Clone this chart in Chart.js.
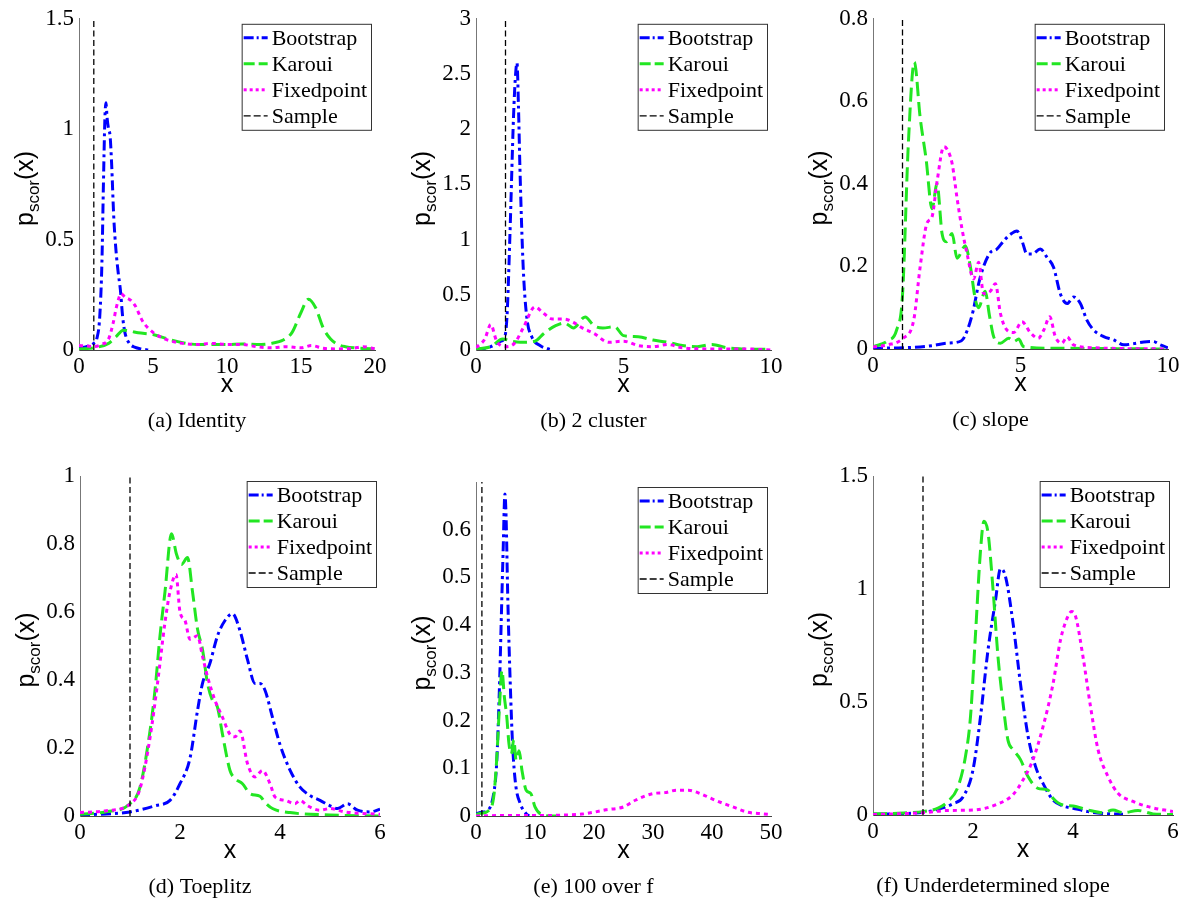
<!DOCTYPE html>
<html lang="en">
<head>
<meta charset="UTF-8">
<title>p_scor(x) densities</title>
<style>
    body { margin: 0; background: #fff; }
    #fig { position: relative; width: 1200px; height: 900px; }
    #fig canvas { position: absolute; }
</style>
</head>
<body>
<div id="fig"></div>
<script src="https://cdn.jsdelivr.net/npm/chart.js"></script>
<script>
// Series names, in legend order
const seriesNames = ['Bootstrap', 'Karoui', 'Fixedpoint', 'Sample'];
const sampleX = 1;

// (a) Identity
const identityXTicks = [0, 5, 10, 15, 20];
const identityYTicks = [0, 0.5, 1, 1.5];
const identityBootstrap = [[0,0.01],[0.5,0.015],[1,0.03],[1.2,0.05],[1.4,0.15],[1.55,0.4],[1.65,0.75],[1.75,1.05],[1.82,1.12],[1.9,1.05],[2.0,1.0],[2.1,0.97],[2.2,0.85],[2.35,0.6],[2.5,0.45],[2.65,0.35],[2.8,0.27],[2.95,0.15],[3.1,0.08],[3.4,0.03],[3.8,0.012],[4.2,0.005],[4.7,0]];
const identityKaroui = [[0,0.005],[1,0.01],[2,0.03],[2.5,0.06],[3,0.09],[3.5,0.085],[4,0.078],[5,0.07],[6,0.05],[7,0.033],[8,0.025],[9,0.025],[10,0.025],[11,0.027],[12,0.025],[13,0.03],[13.8,0.045],[14.4,0.08],[15,0.17],[15.5,0.23],[16,0.19],[16.5,0.1],[17,0.05],[17.5,0.025],[18,0.015],[19,0.008],[20,0.005]];
const identityFixedpoint = [[0,0.02],[0.5,0.018],[1,0.015],[1.5,0.025],[2,0.05],[2.3,0.12],[2.55,0.2],[2.85,0.255],[3.1,0.24],[3.5,0.225],[3.8,0.2],[4.3,0.13],[5,0.08],[6,0.045],[7,0.03],[8,0.025],[9,0.03],[10,0.025],[11,0.025],[12,0.015],[13,0.01],[14,0.015],[15,0.01],[15.7,0.02],[16.5,0.008],[17.5,0.005],[18.5,0.008],[19.2,0.015],[20,0.005]];

// (b) 2 cluster
const twoClusterXTicks = [0, 5, 10];
const twoClusterYTicks = [0, 0.5, 1, 1.5, 2, 2.5, 3];
const twoClusterBootstrap = [[0,0],[0.5,0.03],[0.85,0.08],[0.95,0.1],[1.05,0.3],[1.15,1.04],[1.27,2.1],[1.33,2.45],[1.39,2.6],[1.44,2.2],[1.49,1.64],[1.6,0.75],[1.72,0.3],[1.89,0.12],[2.17,0.04],[2.56,0]];
const twoClusterKaroui = [[0,0.01],[0.5,0.03],[0.9,0.1],[1.2,0.08],[1.5,0.07],[2,0.08],[2.3,0.15],[2.7,0.22],[3,0.245],[3.3,0.2],[3.7,0.3],[4,0.22],[4.3,0.2],[4.7,0.21],[5,0.13],[5.5,0.12],[6,0.09],[6.5,0.07],[7,0.04],[7.5,0.03],[8,0.05],[8.5,0.02],[9,0.01],[10,0.005]];
const twoClusterFixedpoint = [[0,0.02],[0.3,0.1],[0.5,0.23],[0.7,0.08],[1,0.03],[1.3,0.06],[1.6,0.2],[2,0.39],[2.3,0.33],[2.6,0.28],[3,0.28],[3.3,0.25],[3.6,0.2],[4,0.15],[4.5,0.07],[5,0.08],[5.5,0.04],[6,0.03],[6.5,0.05],[7,0.02],[8,0.01],[9,0.01],[10,0]];

// (c) slope
const slopeXTicks = [0, 5, 10];
const slopeYTicks = [0, 0.2, 0.4, 0.6, 0.8];
const slopeBootstrap = [[0,0.002],[1,0.003],[2,0.008],[2.5,0.014],[3,0.02],[3.2,0.046],[3.4,0.094],[3.58,0.158],[3.75,0.2],[3.98,0.234],[4.2,0.242],[4.43,0.262],[4.66,0.278],[4.88,0.286],[5.05,0.262],[5.22,0.23],[5.39,0.23],[5.67,0.242],[5.9,0.222],[6.12,0.198],[6.35,0.134],[6.58,0.11],[6.8,0.126],[7.03,0.11],[7.25,0.07],[7.48,0.046],[7.82,0.03],[8.16,0.022],[8.5,0.01],[8.84,0.013],[9.18,0.017],[9.5,0.018],[9.74,0.01],[10,0.003]];
const slopeKaroui = [[0,0.005],[0.5,0.02],[0.8,0.046],[1,0.13],[1.2,0.5],[1.4,0.695],[1.6,0.56],[1.8,0.46],[2,0.34],[2.17,0.4],[2.34,0.28],[2.49,0.26],[2.68,0.28],[2.85,0.22],[3.13,0.25],[3.3,0.2],[3.47,0.12],[3.58,0.1],[3.8,0.14],[3.95,0.08],[4.09,0.03],[4.32,0.014],[4.6,0.026],[4.77,0.018],[4.94,0.024],[5.1,0.006],[6,0.002],[10,0]];
const slopeFixedpoint = [[0,0.005],[0.5,0.01],[1,0.025],[1.38,0.07],[1.6,0.2],[1.83,0.305],[2,0.32],[2.17,0.405],[2.4,0.49],[2.5,0.485],[2.68,0.45],[2.85,0.365],[3.02,0.29],[3.19,0.23],[3.41,0.17],[3.58,0.21],[3.75,0.134],[3.98,0.14],[4.15,0.158],[4.32,0.086],[4.54,0.046],[4.77,0.04],[5.05,0.066],[5.33,0.04],[5.6,0.026],[5.79,0.046],[5.99,0.078],[6.18,0.03],[6.4,0.014],[6.58,0.029],[6.8,0.01],[7.5,0.003],[10,0]];

// (d) Toeplitz
const toeplitzXTicks = [0, 2, 4, 6];
const toeplitzYTicks = [0, 0.2, 0.4, 0.6, 0.8, 1];
const toeplitzBootstrap = [[0,0.003],[1,0.012],[1.5,0.03],[1.8,0.046],[2,0.095],[2.2,0.17],[2.35,0.31],[2.45,0.39],[2.6,0.45],[2.75,0.53],[2.9,0.575],[3.05,0.595],[3.2,0.545],[3.35,0.46],[3.5,0.39],[3.6,0.39],[3.7,0.37],[3.85,0.29],[4,0.21],[4.2,0.135],[4.4,0.085],[4.6,0.06],[4.8,0.046],[5,0.03],[5.15,0.022],[5.35,0.036],[5.55,0.017],[5.8,0.012],[6,0.02]];
const toeplitzKaroui = [[0,0.005],[0.5,0.012],[1,0.036],[1.2,0.085],[1.4,0.25],[1.5,0.37],[1.6,0.53],[1.7,0.66],[1.83,0.83],[1.93,0.77],[2.03,0.74],[2.15,0.76],[2.25,0.66],[2.35,0.55],[2.45,0.49],[2.55,0.39],[2.65,0.34],[2.75,0.32],[2.85,0.24],[3,0.134],[3.1,0.11],[3.25,0.095],[3.4,0.066],[3.6,0.058],[3.7,0.04],[3.85,0.022],[4.2,0.01],[5,0.003],[6,0]];
const toeplitzFixedpoint = [[0,0.01],[0.5,0.015],[1,0.035],[1.2,0.08],[1.4,0.23],[1.55,0.39],[1.7,0.57],[1.8,0.66],[1.92,0.71],[2,0.6],[2.1,0.575],[2.2,0.52],[2.35,0.53],[2.45,0.47],[2.55,0.41],[2.7,0.34],[2.85,0.29],[3,0.24],[3.1,0.233],[3.2,0.25],[3.35,0.154],[3.5,0.115],[3.65,0.134],[3.8,0.095],[3.9,0.056],[4.1,0.046],[4.3,0.036],[4.4,0.046],[4.55,0.03],[4.8,0.017],[5,0.022],[5.3,0.012],[6,0.005]];

// (e) 100 over f
const hundredXTicks = [0, 10, 20, 30, 40, 50];
const hundredYTicks = [0, 0.1, 0.2, 0.3, 0.4, 0.5, 0.6];
const hundredBootstrap = [[0,0.005],[1,0.008],[2,0.012],[3,0.047],[3.5,0.11],[4,0.28],[4.3,0.42],[4.6,0.556],[4.9,0.675],[5.1,0.626],[5.4,0.45],[5.8,0.28],[6.2,0.15],[6.7,0.068],[7.5,0.026],[8.5,0.005],[9,0]];
const hundredKaroui = [[0,0.003],[1,0.006],[2,0.01],[3,0.04],[3.5,0.117],[4,0.235],[4.4,0.305],[4.8,0.25],[5.2,0.21],[5.6,0.15],[6,0.13],[6.4,0.16],[6.8,0.117],[7.3,0.137],[7.8,0.095],[8.5,0.054],[9.3,0.047],[10,0.019],[11,0.004],[13,0],[15,0]];
const hundredFixedpoint = [[0,0],[5,0.001],[10,0.001],[15,0.002],[18,0.004],[20,0.008],[22,0.013],[25,0.019],[27,0.033],[30,0.047],[32,0.049],[34,0.054],[36,0.054],[38,0.047],[40,0.036],[42,0.026],[44,0.017],[46,0.008],[48,0.005],[50,0.003]];

// (f) Underdetermined slope
const underXTicks = [0, 2, 4, 6];
const underYTicks = [0, 0.5, 1, 1.5];
const underBootstrap = [[0,0.003],[1,0.012],[1.3,0.025],[1.6,0.05],[1.8,0.08],[2,0.2],[2.15,0.435],[2.3,0.73],[2.45,0.95],[2.55,1.09],[2.65,1.055],[2.8,0.85],[2.95,0.58],[3.1,0.35],[3.25,0.215],[3.4,0.14],[3.6,0.066],[3.8,0.04],[4,0.03],[4.3,0.015],[4.6,0.007],[5,0.003]];
const underKaroui = [[0,0.005],[0.5,0.008],[1,0.015],[1.3,0.03],[1.5,0.06],[1.7,0.125],[1.85,0.26],[1.95,0.435],[2.05,0.8],[2.15,1.17],[2.22,1.3],[2.3,1.25],[2.4,1.0],[2.5,0.7],[2.6,0.495],[2.7,0.33],[2.8,0.29],[2.95,0.245],[3.1,0.17],[3.3,0.118],[3.5,0.11],[3.6,0.074],[3.8,0.044],[4,0.04],[4.3,0.022],[4.6,0.01],[4.8,0.022],[5,0.01],[5.3,0.02],[5.6,0.005],[6,0.002]];
const underFixedpoint = [[0,0.002],[1,0.01],[1.5,0.02],[2,0.022],[2.5,0.049],[2.8,0.09],[3,0.155],[3.2,0.245],[3.4,0.39],[3.6,0.58],[3.75,0.775],[3.9,0.88],[3.97,0.9],[4.05,0.88],[4.2,0.7],[4.35,0.48],[4.5,0.29],[4.7,0.17],[4.9,0.096],[5.2,0.06],[5.5,0.037],[6,0.015]];

// layout: canvas box and plot box in page pixels
const panels = [
    { caption: '(a) Identity', box: [0, 0, 395, 450], plot: [79, 17, 375, 350], xMax: 20, yMax: 1.5,
      xTicks: identityXTicks, yTicks: identityYTicks, series: [identityBootstrap, identityKaroui, identityFixedpoint] },
    { caption: '(b) 2 cluster', box: [395, 0, 395, 450], plot: [476, 15, 771, 350], xMax: 10, yMax: 3,
      xTicks: twoClusterXTicks, yTicks: twoClusterYTicks, series: [twoClusterBootstrap, twoClusterKaroui, twoClusterFixedpoint] },
    { caption: '(c) slope', box: [790, 0, 410, 450], plot: [873, 15, 1168, 349], xMax: 10, yMax: 0.8,
      xTicks: slopeXTicks, yTicks: slopeYTicks, series: [slopeBootstrap, slopeKaroui, slopeFixedpoint] },
    { caption: '(d) Toeplitz', box: [0, 450, 395, 450], plot: [80, 476, 380, 816], xMax: 6, yMax: 1,
      xTicks: toeplitzXTicks, yTicks: toeplitzYTicks, series: [toeplitzBootstrap, toeplitzKaroui, toeplitzFixedpoint] },
    { caption: '(e) 100 over f', box: [395, 450, 395, 450], plot: [476, 482, 771, 816], xMax: 50, yMax: 0.7,
      xTicks: hundredXTicks, yTicks: hundredYTicks, series: [hundredBootstrap, hundredKaroui, hundredFixedpoint] },
    { caption: '(f) Underdetermined slope', box: [790, 450, 410, 450], plot: [873, 476, 1173, 815], xMax: 6, yMax: 1.5,
      xTicks: underXTicks, yTicks: underYTicks, series: [underBootstrap, underKaroui, underFixedpoint] }
];

const styles = [
    { color: '#0000ff', width: 3, dash: [10, 4, 3, 4], legendDash: [10, 3, 2, 3] },
    { color: '#22e622', width: 3, dash: [14, 6], legendDash: [11, 4] },
    { color: '#ff00ff', width: 3, dash: [4, 4], legendDash: [3, 3] },
    { color: '#000000', width: 1.3, dash: [6, 3.5], legendDash: [7, 3] }
];

const serif = 'Liberation Serif, Times New Roman, serif';
const sans = 'Liberation Sans, Arial, sans-serif';

function fmt(v) { return String(+v.toFixed(2)); }

// axis labels, caption and the boxed legend
const decor = {
    id: 'decor',
    afterDraw(chart, args, opts) {
        const ctx = chart.ctx;
        const a = chart.chartArea;
        const cx = (a.left + a.right) / 2;
        ctx.save();
        ctx.fillStyle = '#000';

        // x label
        ctx.font = '25px ' + sans;
        ctx.textAlign = 'center';
        ctx.textBaseline = 'middle';
        ctx.fillText('x', cx, a.bottom + 35);

        // y label p_scor(x), rotated
        ctx.save();
        ctx.translate(a.left - 46, (a.top + a.bottom) / 2 + 4);
        ctx.rotate(-Math.PI / 2);
        ctx.textAlign = 'left';
        ctx.textBaseline = 'alphabetic';
        const big = '25px ' + sans, small = '17px ' + sans;
        ctx.font = big; const wp = ctx.measureText('p').width, wx = ctx.measureText('(x)').width;
        ctx.font = small; const ws = ctx.measureText('scor').width;
        let px = -(wp + ws + wx) / 2;
        ctx.font = big; ctx.fillText('p', px, 0); px += wp;
        ctx.font = small; ctx.fillText('scor', px, 6); px += ws;
        ctx.font = big; ctx.fillText('(x)', px, 0);
        ctx.restore();

        // caption
        ctx.font = '22px ' + serif;
        ctx.textAlign = 'center';
        ctx.textBaseline = 'middle';
        ctx.fillText(opts.caption, cx - 30, a.bottom + 71);

        // legend
        ctx.font = '22px ' + serif;
        const textW = Math.max(...seriesNames.map(n => ctx.measureText(n).width));
        const boxW = 2 + 24 + 4 + textW + 4;
        const rowH = 26;
        const boxH = rowH * 4 + 2;
        const bx = a.right - 4 - boxW;
        const by = a.top + 5;
        ctx.fillStyle = '#fff';
        ctx.fillRect(bx, by, boxW, boxH);
        ctx.strokeStyle = '#333';
        ctx.lineWidth = 1;
        ctx.setLineDash([]);
        ctx.strokeRect(bx + 0.5, by + 0.5, boxW, boxH);
        seriesNames.forEach((name, i) => {
            const st = styles[i];
            const ry = by + 14 + i * rowH;
            ctx.strokeStyle = st.color;
            ctx.lineWidth = st.width;
            ctx.setLineDash(st.legendDash);
            ctx.beginPath();
            ctx.moveTo(bx + 2, ry);
            ctx.lineTo(bx + 26, ry);
            ctx.stroke();
            ctx.fillStyle = '#000';
            ctx.textAlign = 'left';
            ctx.textBaseline = 'middle';
            ctx.fillText(name, bx + 30, ry + 1);
        });
        ctx.restore();
    }
};

const fig = document.getElementById('fig');

panels.forEach(p => {
    const [bl, bt, bw, bh] = p.box;
    const [pl, pt, pr, pb] = p.plot;
    const canvas = document.createElement('canvas');
    canvas.width = bw;
    canvas.height = bh;
    canvas.style.left = bl + 'px';
    canvas.style.top = bt + 'px';
    canvas.style.width = bw + 'px';
    canvas.style.height = bh + 'px';
    fig.appendChild(canvas);

    const datasets = p.series.map((s, i) => ({
        label: seriesNames[i],
        data: s.map(([x, y]) => ({ x, y })),
        borderColor: styles[i].color,
        borderWidth: styles[i].width,
        borderDash: styles[i].dash,
        pointRadius: 0,
        fill: false,
        cubicInterpolationMode: 'monotone',
        order: 4 - i
    }));
    datasets.push({
        label: seriesNames[3],
        data: [{ x: sampleX, y: 0 }, { x: sampleX, y: p.yMax }],
        borderColor: styles[3].color,
        borderWidth: styles[3].width,
        borderDash: styles[3].dash,
        pointRadius: 0,
        fill: false,
        tension: 0,
        order: 0
    });

    new Chart(canvas, {
        type: 'line',
        data: { datasets },
        options: {
            responsive: false,
            animation: false,
            devicePixelRatio: 1,
            layout: { padding: { left: 0, top: pt - bt, right: bl + bw - pr, bottom: 0 } },
            plugins: {
                legend: { display: false },
                tooltip: { enabled: false },
                decor: { caption: p.caption }
            },
            scales: {
                x: {
                    type: 'linear',
                    min: 0,
                    max: p.xMax,
                    afterFit(s) { s.height = bt + bh - pb; },
                    afterBuildTicks(s) { s.ticks = p.xTicks.map(v => ({ value: v })); },
                    grid: { display: false, drawTicks: false },
                    border: { display: true, color: '#444', width: 1 },
                    ticks: { color: '#000', font: { family: serif, size: 23 }, padding: 3,
                             maxRotation: 0, autoSkip: false, callback: v => fmt(v) }
                },
                y: {
                    type: 'linear',
                    min: 0,
                    max: p.yMax,
                    afterFit(s) { s.width = pl - bl; },
                    afterBuildTicks(s) { s.ticks = p.yTicks.map(v => ({ value: v })); },
                    grid: { display: false, drawTicks: false },
                    border: { display: true, color: '#777', width: 1 },
                    ticks: { color: '#000', font: { family: serif, size: 23 }, padding: 5,
                             autoSkip: false, callback: v => fmt(v) }
                }
            }
        },
        plugins: [decor]
    });
});
</script>
</body>
</html>
